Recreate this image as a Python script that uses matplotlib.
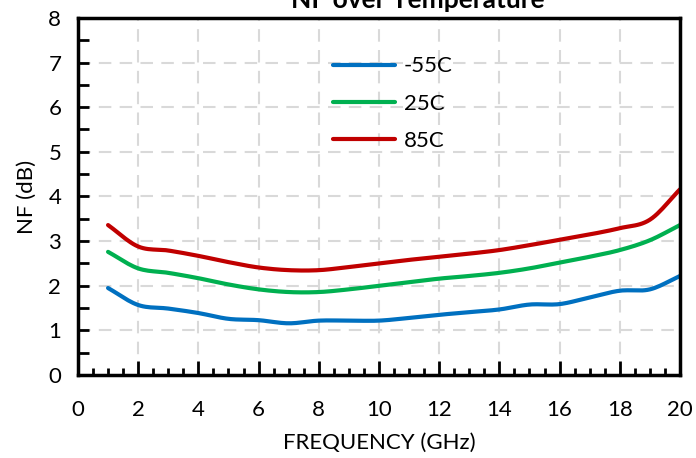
import numpy as np
import matplotlib.pyplot as plt
from matplotlib.ticker import MultipleLocator

# Datos (frecuencia en GHz, NF en dB)
freq = [1, 2, 3, 4, 5, 6, 7, 8, 9, 10, 11, 12, 13, 14, 15, 16, 17, 18, 19, 20]
nf_m55 = [1.95, 1.57, 1.49, 1.39, 1.26, 1.23, 1.16, 1.22, 1.22, 1.22,
          1.28, 1.35, 1.41, 1.47, 1.58, 1.59, 1.74, 1.89, 1.92, 2.22]
nf_25 = [2.76, 2.39, 2.29, 2.17, 2.03, 1.92, 1.86, 1.86, 1.92, 2.00,
         2.08, 2.16, 2.22, 2.29, 2.39, 2.52, 2.65, 2.80, 3.02, 3.36]
nf_85 = [3.36, 2.88, 2.79, 2.67, 2.53, 2.41, 2.35, 2.35, 2.42, 2.50,
         2.58, 2.65, 2.72, 2.80, 2.91, 3.03, 3.15, 3.29, 3.48, 4.16]
labels = ["-55C", "25C", "85C"]
colors = ["#0070C0", "#00B050", "#C00000"]


def suavizar(x, y, n=12):
    # curva suave tipo Excel (Catmull-Rom) solo para el trazo
    x = np.asarray(x, float)
    y = np.asarray(y, float)
    px = np.concatenate([[2 * x[0] - x[1]], x, [2 * x[-1] - x[-2]]])
    py = np.concatenate([[2 * y[0] - y[1]], y, [2 * y[-1] - y[-2]]])
    t = np.linspace(0, 1, n, endpoint=False)
    xs, ys = [], []
    for i in range(1, len(px) - 2):
        for p, out in ((px, xs), (py, ys)):
            p0, p1, p2, p3 = p[i - 1], p[i], p[i + 1], p[i + 2]
            out.extend(0.5 * (2 * p1 + (-p0 + p2) * t
                              + (2 * p0 - 5 * p1 + 4 * p2 - p3) * t ** 2
                              + (-p0 + 3 * p1 - 3 * p2 + p3) * t ** 3))
    xs.append(x[-1])
    ys.append(y[-1])
    return xs, ys


plt.rcParams['font.family'] = ['Lato', 'DejaVu Sans']
plt.rcParams['font.size'] = 16

fig = plt.figure(figsize=(6.96, 4.58), dpi=100)
ax = fig.add_axes([0.112, 0.181, 0.865, 0.78])

for serie, lab, col in zip([nf_m55, nf_25, nf_85], labels, colors):
    xs, ys = suavizar(freq, serie)
    ax.plot(xs, ys, color=col, lw=3, label=lab, solid_capstyle='round')

ax.set_xlim(0, 20)
ax.set_ylim(0, 8)
ax.xaxis.set_major_locator(MultipleLocator(2))
ax.xaxis.set_minor_locator(MultipleLocator(0.5))
ax.yaxis.set_major_locator(MultipleLocator(1))
ax.yaxis.set_minor_locator(MultipleLocator(0.5))
ax.tick_params(axis='x', which='major', direction='in', length=10, width=2,
               pad=18, labelsize=16)
ax.tick_params(axis='x', which='minor', direction='in', length=5, width=2)
ax.tick_params(axis='y', which='major', direction='in', length=8, width=2,
               pad=12, labelsize=16)
ax.tick_params(axis='y', which='minor', direction='in', length=8, width=2)
for s in ax.spines.values():
    s.set_linewidth(2.5)

# Cuadrícula discontinua
ax.grid(True, which='major', color='#D9D9D9', linestyle=(0, (6, 4)), lw=1.5)
ax.set_axisbelow(True)

ax.set_xlabel("FREQUENCY (GHz)", fontsize=16, labelpad=9)
ax.set_ylabel("NF (dB)", fontsize=16, labelpad=8)
fig.text(0.6, 1.0, "NF over Temperature", ha='center', va='center',
         fontsize=19, fontweight='bold')

ax.legend(loc='upper left', bbox_to_anchor=(0.39, 0.948), frameon=False,
          fontsize=16, handlelength=2.8, labelspacing=0.78, handletextpad=0.4)

fig.savefig("out.png", dpi=100)
